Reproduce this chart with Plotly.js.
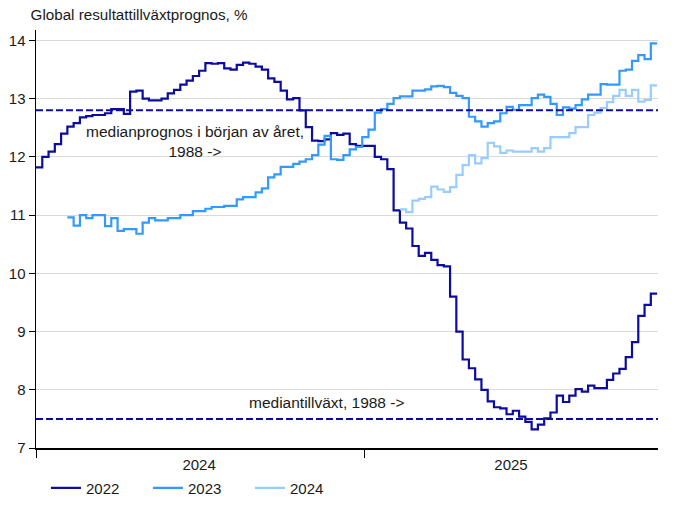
<!DOCTYPE html>
<html>
<head>
<meta charset="utf-8">
<script src="https://cdn.plot.ly/plotly-3.0.1.min.js"></script>
<style>html,body{margin:0;padding:0;background:#fff}#chart{width:680px;height:510px}</style>
</head>
<body>
<div id="chart"></div>
<script>
// Weekly observations starting at this date
const startDate = '2024-01-01';
const seriesNames = ['2022', '2023', '2024'];

const values2022 = [
  11.82, 12.00, 12.09, 12.22, 12.40, 12.52, 12.58, 12.68, 12.70, 12.72,
  12.72, 12.75, 12.82, 12.82, 12.74, 13.12, 13.14, 13.00, 12.97, 12.97,
  13.00, 13.09, 13.15, 13.24, 13.31, 13.39, 13.48, 13.61, 13.60, 13.61,
  13.52, 13.50, 13.58, 13.62, 13.60, 13.55, 13.50, 13.35, 13.29, 13.14,
  12.99, 13.01, 12.80, 12.51, 12.28, 12.27, 12.30, 12.41, 12.38, 12.40,
  12.22, 12.19, 12.19, 12.19, 12.00, 11.96, 11.79, 11.08, 10.87, 10.77,
  10.47, 10.30, 10.35, 10.23, 10.14, 10.12, 9.60, 9.00, 8.52, 8.37,
  8.18, 8.00, 7.80, 7.70, 7.68, 7.58, 7.64, 7.54, 7.45, 7.32,
  7.40, 7.51, 7.61, 7.90, 7.79, 7.90, 8.01, 7.97, 8.07, 8.03,
  8.03, 8.17, 8.28, 8.36, 8.56, 8.82, 9.27, 9.46, 9.65, 9.65
];

const values2023 = [
  null, null, null, null, null, 10.96, 10.82, 11.00, 10.95, 11.00,
  11.00, 10.81, 10.95, 10.73, 10.76, 10.76, 10.68, 10.87, 10.95, 10.91,
  10.91, 10.95, 10.95, 11.00, 11.00, 11.07, 11.07, 11.11, 11.14, 11.14,
  11.16, 11.16, 11.27, 11.31, 11.31, 11.39, 11.46, 11.65, 11.70, 11.83,
  11.83, 11.88, 11.92, 11.96, 12.03, 12.21, 12.36, 11.96, 11.95, 12.03,
  12.13, 12.17, 12.34, 12.47, 12.76, 12.82, 12.91, 13.01, 13.04, 13.04,
  13.14, 13.14, 13.16, 13.21, 13.22, 13.20, 13.10, 13.05, 13.01, 12.69,
  12.61, 12.52, 12.58, 12.61, 12.75, 12.86, 12.81, 12.89, 12.89, 13.01,
  13.07, 13.03, 12.91, 12.72, 12.85, 12.83, 12.89, 12.99, 13.07, 13.07,
  13.25, 13.24, 13.24, 13.48, 13.50, 13.65, 13.75, 13.68, 13.95, 13.95
];

const values2024 = [
  null, null, null, null, null, null, null, null, null, null,
  null, null, null, null, null, null, null, null, null, null,
  null, null, null, null, null, null, null, null, null, null,
  null, null, null, null, null, null, null, null, null, null,
  null, null, null, null, null, null, null, null, null, null,
  null, null, null, null, null, null, null, null, 11.10, 11.05,
  11.25, 11.28, 11.31, 11.49, 11.44, 11.40, 11.48, 11.69, 11.86, 12.03,
  11.89, 11.98, 12.24, 12.18, 12.07, 12.11, 12.09, 12.09, 12.09, 12.15,
  12.09, 12.15, 12.34, 12.34, 12.34, 12.41, 12.51, 12.51, 12.72, 12.76,
  12.84, 12.94, 13.05, 13.15, 13.05, 13.15, 12.95, 12.98, 13.23, 13.23
];

const medianForecast1988 = 12.8;
const medianGrowth1988 = 7.5;

const xRange = ['2024-01-01', '2025-11-25'];
const yearTicks = ['2024-01-01', '2025-01-01'];
const yearLabels = ['2024', '2025'];
const yearLabelPos = ['2024-07-01', '2025-06-14'];
const yTicks = [7, 8, 9, 10, 11, 12, 13, 14];

const colors = ['#0C0C9E', '#3399FF', '#99CCFF'];

function weekDates(n) {
  const out = [];
  const t0 = Date.parse(startDate + 'T00:00:00Z');
  for (let i = 0; i < n; i++) {
    out.push(new Date(t0 + i * 7 * 86400000).toISOString().slice(0, 10));
  }
  return out;
}
const dates = weekDates(values2022.length);

const font = 'Liberation Sans, Arial, sans-serif';
const allValues = [values2022, values2023, values2024];

const traces = allValues.map((v, k) => ({
  type: 'scatter', mode: 'lines', name: seriesNames[k],
  x: dates, y: v, line: {color: colors[k], width: 2.2, shape: 'hv'},
  connectgaps: false, hoverinfo: 'skip'
}));

[medianForecast1988, medianGrowth1988].forEach(v => {
  traces.push({
    type: 'scatter', mode: 'lines', showlegend: false,
    x: xRange, y: [v, v],
    line: {color: '#0C0C9E', width: 2, dash: '7px,3px'}, hoverinfo: 'skip'
  });
});

const layout = {
  width: 680, height: 510,
  margin: {l: 36, r: 22, t: 30, b: 62, autoexpand: false},
  paper_bgcolor: '#fff', plot_bgcolor: '#fff',
  font: {family: font, size: 15, color: '#1a1a1a'},
  title: {
    text: 'Global resultattillväxtprognos, %',
    font: {family: font, size: 15.2, color: '#1a1a1a'},
    xref: 'container', x: 0.045, xanchor: 'left',
    yref: 'container', y: 0.972, yanchor: 'middle'
  },
  xaxis: {
    type: 'date', range: xRange,
    tickvals: yearTicks, ticktext: ['', ''],
    ticks: 'outside', ticklen: 8, tickcolor: '#000', tickwidth: 1,
    showline: true, linecolor: '#000', linewidth: 1.5,
    showgrid: false, zeroline: false, fixedrange: true
  },
  xaxis2: {
    type: 'date', range: xRange, overlaying: 'x', anchor: 'y', side: 'bottom',
    tickvals: yearLabelPos, ticktext: yearLabels,
    ticks: '', showline: false, showgrid: false, zeroline: false,
    ticklabelstandoff: 6,
    tickfont: {family: font, size: 15, color: '#1a1a1a'}
  },
  yaxis: {
    range: [7, 14.18], tickvals: yTicks,
    ticks: 'outside', ticklen: 6, tickcolor: '#000',
    showline: true, linecolor: '#000', linewidth: 1.5,
    showgrid: true, gridcolor: '#d9d9d9', gridwidth: 1,
    zeroline: false, tickfont: {family: font, size: 15, color: '#1a1a1a'}
  },
  legend: {
    orientation: 'h', x: 0.016, xanchor: 'left',
    yref: 'container', y: 0.043, yanchor: 'middle',
    font: {family: font, size: 15, color: '#1a1a1a'},
    entrywidth: 57, entrywidthmode: 'pixels', bgcolor: 'rgba(0,0,0,0)'
  },
  annotations: [
    {x: '2024-06-26', y: 12.27, xref: 'x', yref: 'y', showarrow: false,
     text: 'medianprognos i början av året,<br>1988 ->', align: 'center',
     font: {family: font, size: 15.5, color: '#1a1a1a'}},
    {x: '2024-11-21', y: 7.79, xref: 'x', yref: 'y', showarrow: false,
     text: 'mediantillväxt, 1988 ->',
     font: {family: font, size: 15.5, color: '#1a1a1a'}}
  ],
  showlegend: true
};

// invisible trace so the label axis is rendered
traces.push({type: 'scatter', x: xRange, y: [7, 7], xaxis: 'x2', mode: 'lines',
  line: {width: 0}, showlegend: false, hoverinfo: 'skip', opacity: 0});

Plotly.newPlot('chart', traces, layout, {displayModeBar: false, staticPlot: true});
</script>
</body>
</html>
